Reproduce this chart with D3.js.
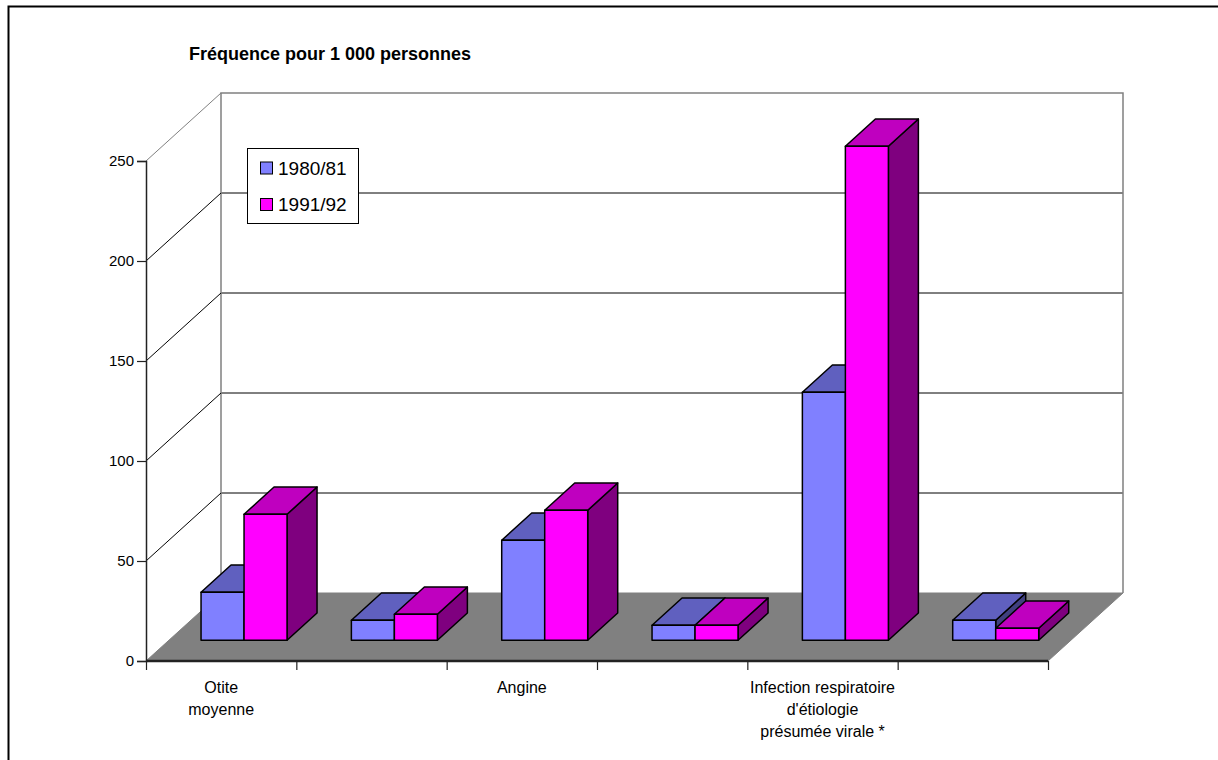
<!DOCTYPE html>
<html>
<head>
<meta charset="utf-8">
<script src="https://cdn.jsdelivr.net/npm/d3@7"></script>
<style>
  html, body { margin: 0; padding: 0; background: #fff; }
  svg { display: block; font-family: "Liberation Sans", Arial, sans-serif; }
</style>
</head>
<body>
<svg id="chart" width="1218" height="760"></svg>
<script>
// Category labels (Excel-style: only every other category is labelled)
const categoryLabels = [
  ["Otite", "moyenne"],
  [],
  ["Angine"],
  [],
  ["Infection respiratoire", "d'étiologie", "présumée virale *"],
  []
];
const series = ["1980/81", "1991/92"];
const values1980 = [24, 10, 50, 7.5, 124, 10];
const values1991 = [63, 13, 65, 7.5, 247, 6];
const yTicks = [0, 50, 100, 150, 200, 250];
const title = "Fréquence pour 1 000 personnes";

// face colours: front, top, side
const palette = {
  "1980/81": { front: "#8080ff", top: "#6060bf", side: "#40407f" },
  "1991/92": { front: "#ff00ff", top: "#bf00bf", side: "#7f007f" }
};
const seriesValues = { "1980/81": values1980, "1991/92": values1991 };

const svg = d3.select("#chart");

// outer frame
svg.append("rect").attr("x", 8.5).attr("y", 6.5).attr("width", 1300).attr("height", 900)
  .attr("fill", "none").attr("stroke", "#000").attr("stroke-width", 2);

// plot geometry (oblique projection)
const x0 = 146, x1 = 1048;
const DX = 75, DY = -68;          // full depth offset of the floor
const dFront = 0.305, dBack = 0.705; // bar depth span
const idx = d3.range(categoryLabels.length);
const x = d3.scaleBand().domain(idx).range([x0, x1]);
const y = d3.scaleLinear().domain([0, 250]).range([661, 161]);
const xs = d3.scaleBand().domain(series).range([-43, 43]);
const P = (px, py, d) => [px + DX * d, py + DY * d];
const line = d3.line();

// back wall
const backG = svg.append("g");
yTicks.filter(v => v > 0 && v < 250).forEach(v => {
  const a = P(x0, y(v), 1), b = P(x1, y(v), 1);
  backG.append("path").attr("d", line([a, b])).attr("stroke", "#000").attr("stroke-width", 1).attr("fill", "none");
});
backG.append("path")
  .attr("d", line([P(x0, y(0), 1), P(x0, y(250), 1), P(x1, y(250), 1), P(x1, y(0), 1)]))
  .attr("stroke", "#808080").attr("stroke-width", 1.5).attr("fill", "none");

// side wall lines
yTicks.filter(v => v > 0).forEach(v => {
  backG.append("path").attr("d", line([P(x0, y(v), 0), P(x0, y(v), 1)]))
    .attr("stroke", v === 250 ? "#808080" : "#000").attr("stroke-width", 1).attr("fill", "none");
});

// floor
svg.append("path")
  .attr("d", line([P(x0, y(0), 0), P(x1, y(0), 0), P(x1, y(0), 1), P(x0, y(0), 1)]) + "Z")
  .attr("fill", "#808080").attr("stroke", "#808080").attr("stroke-width", 1);
svg.append("path").attr("d", line([[x0, y(0)], [x1, y(0)]]))
  .attr("stroke", "#222").attr("stroke-width", 2.5);

// y axis
const yAxis = svg.append("g").attr("transform", `translate(${x0},0)`)
  .call(d3.axisLeft(y).tickValues(yTicks).tickSize(9).tickPadding(3).tickFormat(d3.format("d")));
yAxis.select(".domain").attr("stroke", "#222").attr("stroke-width", 1.5);
yAxis.selectAll(".tick line").attr("stroke", "#222").attr("stroke-width", 1.2);
yAxis.selectAll(".tick text").attr("font-size", 15).attr("fill", "#000")
  .attr("font-family", "'Liberation Sans', Arial, sans-serif");

// x axis tick marks at category boundaries
const xEdge = d3.scaleLinear().domain([0, idx.length]).range([x0, x1]);
const xAxis = svg.append("g").attr("transform", `translate(0,${y(0)})`)
  .call(d3.axisBottom(xEdge).tickValues(d3.range(idx.length + 1)).tickSize(9).tickFormat(""));
xAxis.select(".domain").remove();
xAxis.selectAll(".tick line").attr("stroke", "#222").attr("stroke-width", 1.2);

// bars
const barsG = svg.append("g").attr("stroke", "#000").attr("stroke-width", 1.5).attr("stroke-linejoin", "round");
const bdx = DX * (dBack - dFront), bdy = DY * (dBack - dFront);
idx.forEach(i => {
  const cx = x(i) + x.bandwidth() / 2;
  series.forEach(s => {
    const v = seriesValues[s][i];
    const [fx, fyTop] = P(cx + xs(s), y(v), dFront);
    const fyBot = P(0, y(0), dFront)[1];
    const w = xs.bandwidth();
    const c = palette[s];
    const g = barsG.append("g");
    g.append("path").attr("fill", c.side)
      .attr("d", line([[fx + w, fyTop], [fx + w + bdx, fyTop + bdy], [fx + w + bdx, fyBot + bdy], [fx + w, fyBot]]) + "Z");
    g.append("path").attr("fill", c.top)
      .attr("d", line([[fx, fyTop], [fx + w, fyTop], [fx + w + bdx, fyTop + bdy], [fx + bdx, fyTop + bdy]]) + "Z");
    g.append("rect").attr("fill", c.front)
      .attr("x", fx).attr("y", fyTop).attr("width", w).attr("height", fyBot - fyTop);
  });
});

// category labels
idx.forEach(i => {
  const cx = x(i) + x.bandwidth() / 2;
  categoryLabels[i].forEach((t, k) => {
    svg.append("text").attr("x", cx).attr("y", 693 + k * 22).attr("text-anchor", "middle")
      .attr("font-size", 16).attr("fill", "#000").text(t);
  });
});

// title
svg.append("text").attr("x", 189).attr("y", 60).attr("font-size", 18).attr("font-weight", "bold")
  .attr("fill", "#000").text(title);

// legend
const lg = svg.append("g");
lg.append("rect").attr("x", 247.5).attr("y", 148.5).attr("width", 111).attr("height", 75)
  .attr("fill", "#fff").attr("stroke", "#000").attr("stroke-width", 1);
series.forEach((s, k) => {
  const yy = 162 + k * 36.5;
  lg.append("rect").attr("x", 260.5).attr("y", yy).attr("width", 12).attr("height", 12)
    .attr("fill", palette[s].front).attr("stroke", "#000").attr("stroke-width", 1);
  lg.append("text").attr("x", 278).attr("y", yy + 12.5).attr("font-size", 19).attr("fill", "#000").text(s);
});
</script>
</body>
</html>
